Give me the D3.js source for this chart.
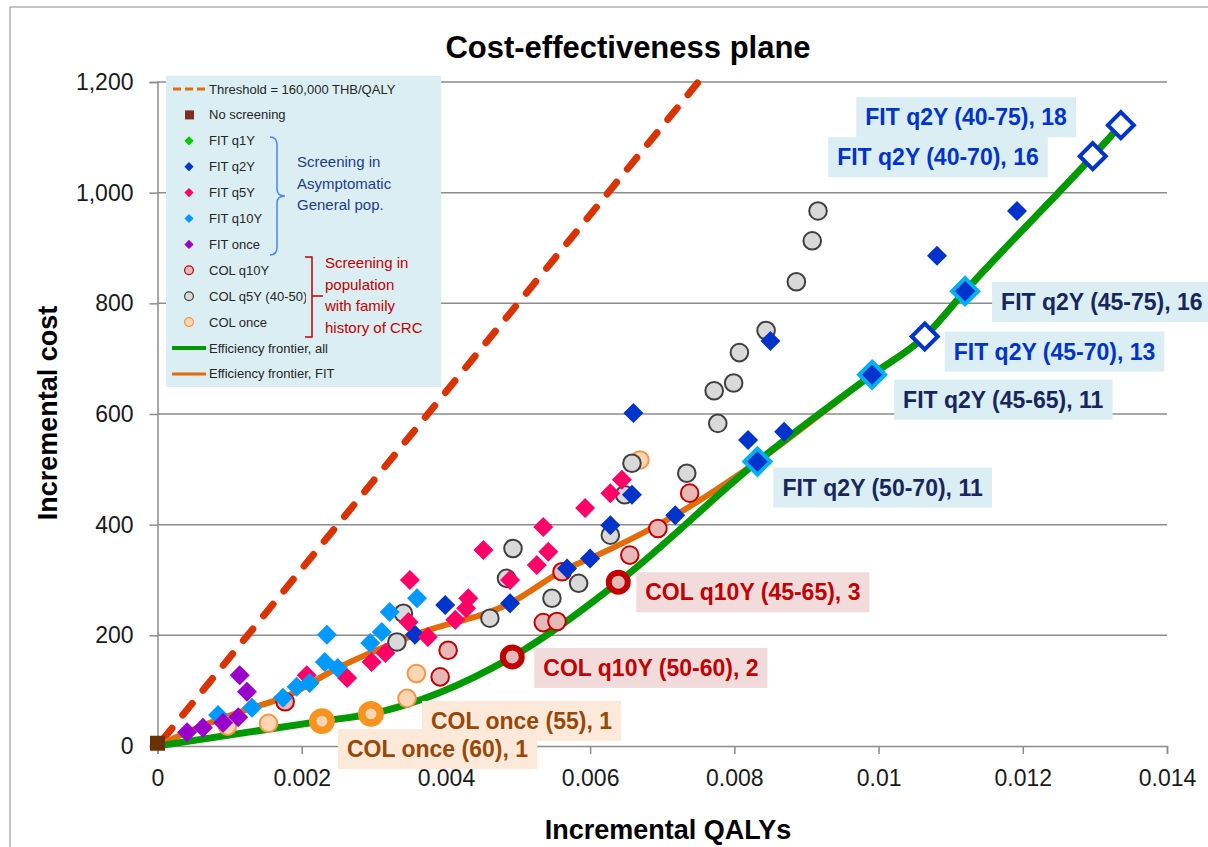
<!DOCTYPE html>
<html>
<head>
<meta charset="utf-8">
<script src="https://cdn.jsdelivr.net/npm/d3@7"></script>
<style>
  body { margin: 0; background: #fff; }
  svg { display: block; }
  text { font-family: "Liberation Sans", Arial, sans-serif; }
</style>
</head>
<body>
<svg id="chart" width="1208" height="847"></svg>
<script>
// ---- axis ticks ----
const xTicks = [0, 0.002, 0.004, 0.006, 0.008, 0.01, 0.012, 0.014];
const xTickLabels = ["0", "0.002", "0.004", "0.006", "0.008", "0.01", "0.012", "0.014"];
const yTicks = [0, 200, 400, 600, 800, 1000, 1200];
const yTickLabels = ["0", "200", "400", "600", "800", "1,000", "1,200"];

// ---- willingness-to-pay threshold (THB per QALY) ----
const thresholdWTP = 160000;
const thresholdQALYs = [0, 0.0075];

// ---- strategies: [incremental QALYs, incremental cost] ----
const noScreening = [[0, 5]];
const fitQ1Y = [];
const fitQ2Y = [
  [0.00357, 201], [0.00399, 255], [0.00489, 258], [0.00568, 321], [0.00600, 339],
  [0.00628, 399], [0.00658, 454], [0.00718, 417], [0.00660, 602], [0.00819, 553],
  [0.00869, 568], [0.00850, 732], [0.01081, 886], [0.01192, 967]
];
const fitQ5Y = [
  [0.00207, 128], [0.00263, 123], [0.00297, 152], [0.00316, 168], [0.00348, 224],
  [0.00375, 197], [0.00350, 300], [0.00413, 228], [0.00431, 267], [0.00428, 249],
  [0.00452, 354], [0.00489, 300], [0.00526, 327], [0.00535, 396], [0.00542, 351],
  [0.00593, 430], [0.00628, 457], [0.00644, 481]
];
const fitQ10Y = [
  [0.00084, 56], [0.00131, 69], [0.00174, 87], [0.00193, 107], [0.00211, 114],
  [0.00235, 201], [0.00232, 152], [0.00250, 141], [0.00295, 186], [0.00311, 206],
  [0.00322, 242], [0.00360, 267]
];
const fitOnce = [
  [0.00041, 25], [0.00063, 33], [0.00091, 42], [0.00112, 52], [0.00114, 128], [0.00124, 98]
];
const colQ10Y = [
  [0.00177, 80], [0.00392, 125], [0.00403, 173], [0.00535, 223], [0.00554, 225],
  [0.00561, 315], [0.00655, 345], [0.00694, 393], [0.00738, 457]
];
const colQ5Y = [
  [0.00332, 188], [0.00341, 240], [0.00461, 231], [0.00484, 303], [0.00493, 357],
  [0.00547, 267], [0.00584, 294], [0.00628, 381], [0.00648, 454], [0.00658, 511],
  [0.00734, 493], [0.00772, 642], [0.00777, 583], [0.00799, 656], [0.00807, 711],
  [0.00844, 751], [0.00886, 839], [0.00908, 913], [0.00916, 967]
];
const colOnce = [
  [0.00097, 36], [0.00154, 41], [0.00346, 86], [0.00359, 131], [0.00669, 517]
];

// ---- strategies on the efficiency frontier (labelled) ----
const colOnceEfficient = [["COL once (55), 1", 0.00296, 58], ["COL once (60), 1", 0.00228, 45]];
const colQ10YEfficient = [["COL q10Y (50-60), 2", 0.00492, 161], ["COL q10Y (45-65), 3", 0.00639, 296]];
const fitQ2YEfficientFilled = [
  ["FIT q2Y (50-70), 11", 0.00832, 514],
  ["FIT q2Y (45-65), 11", 0.00991, 671],
  ["FIT q2Y (45-75), 16", 0.01120, 822]
];
const fitQ2YEfficientOpen = [
  ["FIT q2Y (45-70), 13", 0.01064, 740],
  ["FIT q2Y (40-70), 16", 0.01297, 1066],
  ["FIT q2Y (40-75), 18", 0.01336, 1122]
];

// ---- frontier paths ----
const frontierAll = [
  [0, 0], [0.00228, 45], [0.00296, 58], [0.00492, 161], [0.00639, 296],
  [0.00832, 514], [0.00991, 671], [0.01064, 740], [0.01120, 822], [0.01297, 1066], [0.01336, 1122]
];
const frontierFIT = [
  [0, 0], [0.00041, 25], [0.00131, 69], [0.00174, 87], [0.00250, 141], [0.00357, 201],
  [0.00489, 258], [0.00568, 321], [0.00600, 339], [0.00718, 417],
  [0.00832, 514], [0.00991, 671], [0.01064, 740], [0.01120, 822], [0.01297, 1066], [0.01336, 1122]
];

// ---- drawing ----
const svg = d3.select("#chart");
const x = d3.scaleLinear().domain([0, 0.014]).range([157.5, 1167]);
const y = d3.scaleLinear().domain([0, 1200]).range([746, 82]);

const C = {
  grid: "#8c8c8c", text: "#1a1a1a",
  q1: "#00cc00", q2: "#0033cc", q5: "#ff0066", q10: "#0099ff", once: "#9900cc",
  brown: "#6b3000", lightBlue: "#00b0f0",
  colQ10Fill: "#e6b9b8", colQ10Stroke: "#c00000",
  colQ5Fill: "#d9d9d9", colQ5Stroke: "#404040",
  colOnceFill: "#fcd5b4", colOnceStroke: "#f79646", colOnceStrong: "#f7931e",
  green: "#009a00", orange: "#e36c09", threshold: "#d83300",
  legendBg: "#daeef3"
};

const diamond = h => `M0,${-h}L${h},0L0,${h}L${-h},0Z`;

// outer frame
svg.append("rect").attr("x", 10).attr("y", 7).attr("width", 1220).attr("height", 860)
  .attr("fill", "none").attr("stroke", "#8c8c8c").attr("stroke-width", 1);

// title
svg.append("text").attr("x", 628).attr("y", 58).attr("text-anchor", "middle")
  .attr("font-size", 31).attr("font-weight", "bold").attr("fill", "#000")
  .text("Cost-effectiveness plane");

// gridlines
svg.append("g").selectAll("line").data(yTicks.filter(d => d > 0)).join("line")
  .attr("x1", x(0)).attr("x2", x(0.014)).attr("y1", d => y(d)).attr("y2", d => y(d))
  .attr("stroke", C.grid).attr("stroke-width", 1.5);

// x axis
const xAxis = d3.axisBottom(x).tickValues(xTicks).tickSize(8).tickPadding(16)
  .tickFormat((d, i) => xTickLabels[i]);
const gx = svg.append("g").attr("transform", `translate(0,${y(0)})`).call(xAxis);
gx.select(".domain").attr("stroke", C.grid).attr("stroke-width", 1.5);
gx.selectAll(".tick line").attr("stroke", C.grid).attr("stroke-width", 1.5);
gx.selectAll(".tick text").attr("font-size", 23).attr("fill", C.text)
  .attr("font-family", "'Liberation Sans', Arial, sans-serif");

// y axis
const yAxis = d3.axisLeft(y).tickValues(yTicks).tickSize(8).tickPadding(16)
  .tickFormat((d, i) => yTickLabels[i]);
const gy = svg.append("g").attr("transform", `translate(${x(0)},0)`).call(yAxis);
gy.select(".domain").attr("stroke", C.grid).attr("stroke-width", 1.5);
gy.selectAll(".tick line").attr("stroke", C.grid).attr("stroke-width", 1.5);
gy.selectAll(".tick text").attr("font-size", 23).attr("fill", C.text)
  .attr("font-family", "'Liberation Sans', Arial, sans-serif");

// axis titles
svg.append("text").attr("x", 668).attr("y", 839).attr("text-anchor", "middle")
  .attr("font-size", 27).attr("font-weight", "bold").attr("fill", "#000")
  .text("Incremental QALYs");
svg.append("text").attr("transform", "translate(57,413) rotate(-90)").attr("text-anchor", "middle")
  .attr("font-size", 27).attr("font-weight", "bold").attr("fill", "#000")
  .text("Incremental cost");

// threshold line
svg.append("line")
  .attr("x1", x(thresholdQALYs[0])).attr("y1", y(thresholdQALYs[0] * thresholdWTP))
  .attr("x2", x(thresholdQALYs[1])).attr("y2", y(thresholdQALYs[1] * thresholdWTP))
  .attr("stroke", C.threshold).attr("stroke-width", 7).attr("stroke-linecap", "round")
  .attr("stroke-dasharray", "15,17").attr("stroke-dashoffset", -8);

// efficiency frontiers
const line = d3.line().x(d => x(d[0])).y(d => y(d[1])).curve(d3.curveMonotoneX);
svg.append("path").attr("d", line(frontierFIT)).attr("fill", "none")
  .attr("stroke", C.orange).attr("stroke-width", 6).attr("stroke-linejoin", "round");
svg.append("path").attr("d", line(frontierAll)).attr("fill", "none")
  .attr("stroke", C.green).attr("stroke-width", 7).attr("stroke-linejoin", "round");

// circles (colonoscopy strategies)
function circles(data, fill, stroke, r, sw) {
  svg.append("g").selectAll("circle").data(data).join("circle")
    .attr("cx", d => x(d[0])).attr("cy", d => y(d[1])).attr("r", r)
    .attr("fill", fill).attr("stroke", stroke).attr("stroke-width", sw);
}
// diamonds (FIT strategies)
function diamonds(data, fill, stroke, h, sw) {
  svg.append("g").selectAll("path").data(data).join("path")
    .attr("transform", d => `translate(${x(d[0])},${y(d[1])})`)
    .attr("d", diamond(h)).attr("fill", fill)
    .attr("stroke", stroke).attr("stroke-width", sw).attr("stroke-linejoin", "miter");
}

circles(colOnce, C.colOnceFill, C.colOnceStroke, 8.8, 2);
circles(colQ5Y, C.colQ5Fill, C.colQ5Stroke, 8.8, 2);
circles(colQ10Y, C.colQ10Fill, C.colQ10Stroke, 8.8, 2);
diamonds(fitQ2Y, C.q2, "none", 10, 0);
diamonds(fitQ5Y, C.q5, "none", 10, 0);
diamonds(fitQ10Y, C.q10, "none", 10, 0);
diamonds(fitOnce, C.once, "none", 10, 0);
diamonds(fitQ1Y, C.q1, "none", 10, 0);

// no screening
svg.append("g").selectAll("rect").data(noScreening).join("rect")
  .attr("x", d => x(d[0]) - 7.5).attr("y", d => y(d[1]) - 7.5)
  .attr("width", 15).attr("height", 15).attr("fill", C.brown);

// efficient strategies, emphasised
circles(colOnceEfficient.map(d => [d[1], d[2]]), C.colOnceFill, C.colOnceStrong, 9.2, 7.5);
circles(colQ10YEfficient.map(d => [d[1], d[2]]), C.colQ10Fill, C.colQ10Stroke, 9.5, 6);
diamonds(fitQ2YEfficientFilled.map(d => [d[1], d[2]]), C.q2, C.lightBlue, 13, 4);
diamonds(fitQ2YEfficientOpen.map(d => [d[1], d[2]]), "#fff", C.q2, 13, 4);

// data labels: offset of text from its point (px), anchor
const labelLayout = {
  "COL once (55), 1": [60, 15, "start"],
  "COL once (60), 1": [25, 36, "start"],
  "COL q10Y (50-60), 2": [31, 19, "start"],
  "COL q10Y (45-65), 3": [27, 18, "start"],
  "FIT q2Y (50-70), 11": [25, 34, "start"],
  "FIT q2Y (45-65), 11": [31, 33, "start"],
  "FIT q2Y (45-70), 13": [29, 23, "start"],
  "FIT q2Y (45-75), 16": [36, 19, "start"],
  "FIT q2Y (40-70), 16": [-54, 9, "end"],
  "FIT q2Y (40-75), 18": [-54, 0, "end"]
};
function labels(data, boxFill, textFill) {
  data.forEach(d => {
    const [dx, dy, anchor] = labelLayout[d[0]];
    const g = svg.append("g");
    const t = g.append("text")
      .attr("x", x(d[1]) + dx).attr("y", y(d[2]) + dy).attr("text-anchor", anchor)
      .attr("font-size", 23).attr("font-weight", "bold").attr("fill", textFill).text(d[0]);
    const b = t.node().getBBox();
    g.insert("rect", "text").attr("x", b.x - 9).attr("y", b.y - 7)
      .attr("width", b.width + 18).attr("height", b.height + 14).attr("fill", boxFill);
  });
}
labels(colOnceEfficient, "#fde9d9", "#974806");
labels(colQ10YEfficient, "#f2dcdb", "#c00000");
labels(fitQ2YEfficientFilled.slice(0, 2), C.legendBg, "#17275e");
labels(fitQ2YEfficientOpen.slice(0, 1), C.legendBg, C.q2);
labels(fitQ2YEfficientFilled.slice(2), C.legendBg, "#17275e");
labels(fitQ2YEfficientOpen.slice(1), C.legendBg, C.q2);

// ---- legend ----
const legend = svg.append("g");
legend.append("rect").attr("x", 166).attr("y", 76).attr("width", 275).attr("height", 311)
  .attr("fill", C.legendBg);

const legendItems = [
  ["Threshold = 160,000 THB/QALY", "dash"],
  ["No screening", "square"],
  ["FIT q1Y", "diamond", C.q1],
  ["FIT q2Y", "diamond", C.q2],
  ["FIT q5Y", "diamond", C.q5],
  ["FIT q10Y", "diamond", C.q10],
  ["FIT once", "diamond", C.once],
  ["COL q10Y", "circle", C.colQ10Fill, C.colQ10Stroke],
  ["COL q5Y (40-50)", "circle", C.colQ5Fill, C.colQ5Stroke],
  ["COL once", "circle", C.colOnceFill, C.colOnceStroke],
  ["Efficiency frontier, all", "line", C.green, 4],
  ["Efficiency frontier, FIT", "line", C.orange, 3]
];
const rowY = i => 89 + i * 25.9;
// the family-history group box sits over the right end of the legend entries
svg.append("clipPath").attr("id", "legendClip").append("rect")
  .attr("x", 166).attr("y", 76).attr("width", 140).attr("height", 311);

legendItems.forEach((it, i) => {
  const cy = rowY(i);
  const [name, kind] = it;
  if (kind === "dash") {
    legend.append("line").attr("x1", 173).attr("x2", 207).attr("y1", cy).attr("y2", cy)
      .attr("stroke", C.orange).attr("stroke-width", 3).attr("stroke-dasharray", "8,4");
  } else if (kind === "square") {
    legend.append("rect").attr("x", 185).attr("y", cy - 4.5).attr("width", 9).attr("height", 9)
      .attr("fill", "#7b2d1e");
  } else if (kind === "diamond") {
    legend.append("path").attr("transform", `translate(189,${cy})`).attr("d", diamond(4.6))
      .attr("fill", it[2]);
  } else if (kind === "circle") {
    legend.append("circle").attr("cx", 189).attr("cy", cy).attr("r", 4.4)
      .attr("fill", it[2]).attr("stroke", it[3]).attr("stroke-width", 1.2);
  } else if (kind === "line") {
    legend.append("line").attr("x1", 172).attr("x2", 206).attr("y1", cy).attr("y2", cy)
      .attr("stroke", it[2]).attr("stroke-width", it[3]);
  }
  const t = legend.append("text").attr("x", 209).attr("y", cy).attr("dy", "0.35em")
    .attr("font-size", 13).attr("fill", "#262626").text(name);
  if (i >= 7 && i <= 9) t.attr("clip-path", "url(#legendClip)");
});

// group brackets
legend.append("path")
  .attr("d", "M270,137 Q277,137 277,145 L277,189 Q277,196 285,196 Q277,196 277,203 L277,247 Q277,255 270,255")
  .attr("fill", "none").attr("stroke", "#4a86e8").attr("stroke-width", 1.5);
legend.append("path")
  .attr("d", "M305,257 L312,257 L312,296 L323,296 M312,296 L312,337 L305,337")
  .attr("fill", "none").attr("stroke", "#c00000").attr("stroke-width", 1.5);

const groupGeneral = ["Screening in", "Asymptomatic", "General pop."];
const groupFamily = ["Screening in", "population", "with family", "history of CRC"];
groupGeneral.forEach((t, i) => legend.append("text").attr("x", 297).attr("y", 162 + i * 21.5)
  .attr("dy", "0.35em").attr("font-size", 15).attr("fill", "#1f3c88").text(t));
groupFamily.forEach((t, i) => legend.append("text").attr("x", 325).attr("y", 263 + i * 21.5)
  .attr("dy", "0.35em").attr("font-size", 15).attr("fill", "#c00000").text(t));
</script>
</body>
</html>
